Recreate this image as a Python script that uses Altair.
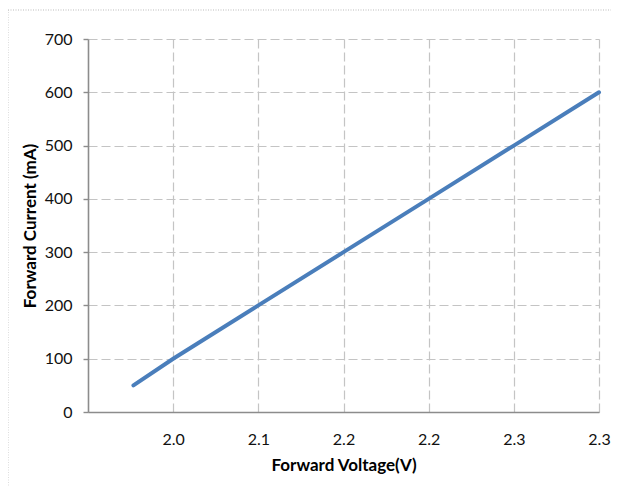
import altair as alt
import pandas as pd

voltage = [1.972, 2.00, 2.06, 2.12, 2.18, 2.24, 2.30]
current = [50, 100, 200, 300, 400, 500, 600]
x_ticks = [2.00, 2.06, 2.12, 2.18, 2.24, 2.30]
x_tick_labels = ["2.0", "2.1", "2.2", "2.2", "2.3", "2.3"]
y_ticks = [0, 100, 200, 300, 400, 500, 600, 700]

df = pd.DataFrame({"V": voltage, "I": current})

label_arr = "[" + ",".join("'%s'" % s for s in x_tick_labels) + "]"
label_expr = f"{label_arr}[round((datum.value - {x_ticks[0]}) / {x_ticks[1] - x_ticks[0]:.4f})]"

FONT = "Lato"
LBL = 16
TTL = 17

line = alt.Chart(df).mark_line(color="#4A7EBB", strokeWidth=4, strokeCap="round").encode(
    x=alt.X("V:Q",
            scale=alt.Scale(domain=[1.94, 2.30], nice=False, zero=False),
            axis=alt.Axis(values=x_ticks, labelExpr=label_expr, title="Forward Voltage(V)",
                          ticks=False, labelPadding=19, titlePadding=10,
                          gridDash=[9, 4], gridColor="#C4C4C4", gridWidth=1.2,
                          domainColor="#8C8C8C", domainWidth=1.6,
                          labelFont=FONT, labelFontSize=LBL, labelColor="#111111",
                          titleFont=FONT, titleFontSize=TTL, titleFontWeight="bold",
                          titleColor="#000000", labelFlush=False)),
    y=alt.Y("I:Q",
            scale=alt.Scale(domain=[0, 700], nice=False),
            axis=alt.Axis(values=y_ticks, title="Forward Current (mA)",
                          tickSize=5, tickColor="#8C8C8C", tickWidth=1.4,
                          labelPadding=11, titlePadding=5,
                          gridDash=[9, 4], gridColor="#C4C4C4", gridWidth=1.2,
                          domainColor="#8C8C8C", domainWidth=1.6,
                          labelFont=FONT, labelFontSize=LBL, labelColor="#111111",
                          titleFont=FONT, titleFontSize=TTL, titleFontWeight="bold",
                          titleColor="#000000")),
)

border = alt.Chart(pd.DataFrame({"a": [0]})).mark_rect(
    fill=None, stroke="#BBBBBB", strokeDash=[1, 1.5], strokeWidth=1
).encode(
    x=alt.value(-80), x2=alt.value(540), y=alt.value(-29), y2=alt.value(480)
)

chart = alt.layer(border, line).properties(
    width=511, height=373,
    autosize="none",
    padding={"left": 80, "top": 31, "right": 12, "bottom": 75},
).configure_view(stroke=None)

chart.save("out.html", embed_options={"renderer": "svg", "actions": False})
